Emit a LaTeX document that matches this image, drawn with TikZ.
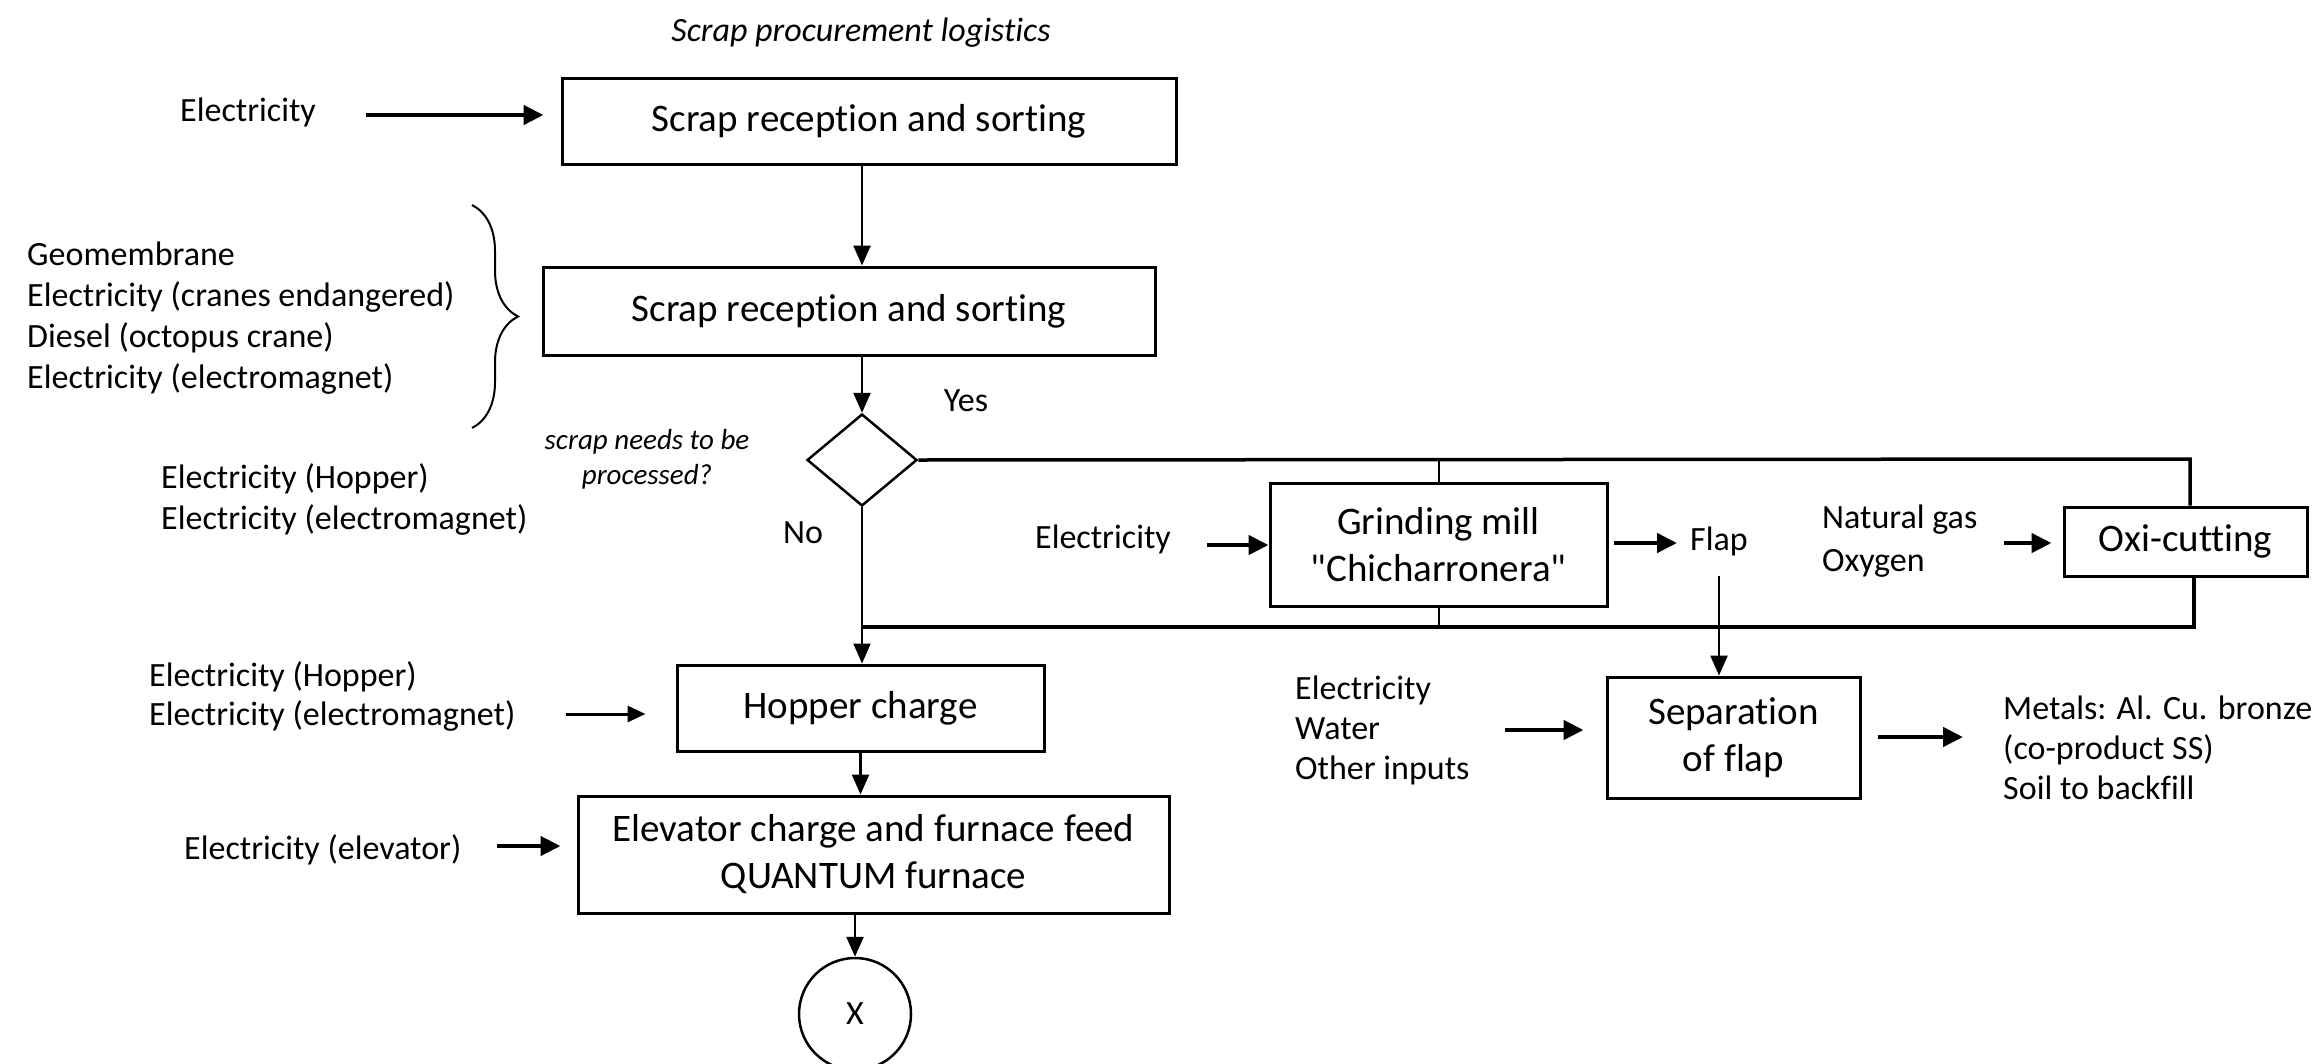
\documentclass[tikz,border=0pt]{standalone}
\usepackage{fontspec}
\setmainfont{Carlito}[Ligatures={TeX,NoCommon}]
\usetikzlibrary{arrows.meta,shapes.geometric,decorations.pathreplacing}
\tikzset{
  box/.style={draw, line width=3pt, inner sep=0pt, align=center, font=\fontsize{39}{47}\selectfont},
  lbl/.style={align=left, inner sep=0pt, font=\fontsize{34}{41}\selectfont},
  ttl/.style={align=center, inner sep=0pt, font=\itshape\fontsize{34}{41}\selectfont},
  qlbl/.style={align=center, inner sep=0pt, font=\itshape\fontsize{29}{35}\selectfont},
  flow/.style={line width=2.5pt, -{Triangle[length=20pt,width=17pt]}},
  inarr/.style={line width=4.5pt, -{Triangle[length=20pt,width=19pt]}},
  thinarr/.style={line width=3pt, -{Triangle[length=18pt,width=16pt]}},
  conn/.style={line width=3.5pt},
  thinconn/.style={line width=2pt},
}
\begin{document}
\begin{tikzpicture}[x=1pt,y=-1pt]
\fill[white] (0,0) rectangle (2315,1063);
\useasboundingbox (0,0) rectangle (2315,1063);

% nodes
\node[ttl] (title) at (861,33) {Scrap procurement logistics};
\node[lbl, anchor=west] (elec1) at (180,112) {Electricity};
\node[box, minimum width=614pt, minimum height=86pt] (box1) at (869,121) {Scrap reception and sorting};
\node[box, minimum width=612pt, minimum height=88pt] (box2) at (849,311) {Scrap reception and sorting};
\node[lbl, anchor=west] (inp2) at (27,318) {Geomembrane\\Electricity (cranes endangered)\\Diesel (octopus crane)\\Electricity (electromagnet)};
\node[draw, diamond, line width=2.5pt, minimum width=110pt, minimum height=92pt, inner sep=0pt] (dia) at (862,460) {};
\node[lbl] (yes) at (966,401) {Yes};
\node[qlbl] (q) at (647,459) {scrap needs to be\\processed?};
\node[lbl, anchor=west] (inp3) at (161,499) {Electricity (Hopper)\\Electricity (electromagnet)};
\node[lbl] (no) at (803,533) {No};
\node[box, minimum width=337pt, minimum height=123pt] (grind) at (1438.5,544.5) {Grinding mill\\\textquotedbl Chicharronera\textquotedbl};
\node[lbl] (elecg) at (1103,539) {Electricity};
\node[lbl, anchor=west] (flap) at (1690,541) {Flap};
\node[lbl, anchor=west, font=\fontsize{34}{43}\selectfont] (ng) at (1822,541) {Natural gas\\Oxygen};
\node[box, minimum width=243pt, minimum height=69pt] (oxi) at (2185.5,541.5) {Oxi-cutting};
\node[box, minimum width=253pt, minimum height=121pt] (sep) at (1733.5,737.5) {Separation\\of flap};
\node[lbl, anchor=west, font=\fontsize{34}{40}\selectfont] (inp4) at (1295,730) {Electricity\\Water\\Other inputs};
\node[lbl, anchor=west, font=\fontsize{34}{40}\selectfont] (metals) at (2003,748) {Metals: Al. Cu. bronze\\(co-product SS)\\Soil to backfill};
\node[box, minimum width=367pt, minimum height=86pt] (hop) at (860.5,708) {Hopper charge};
\node[lbl, anchor=west, font=\fontsize{34}{39}\selectfont] (inp5) at (149,696) {Electricity (Hopper)\\Electricity (electromagnet)};
\node[box, minimum width=591pt, minimum height=117pt] (elev) at (873.5,854.5) {Elevator charge and furnace feed\\QUANTUM furnace};
\node[lbl, anchor=west] (inp6) at (184,850) {Electricity (elevator)};
\node[draw, circle, line width=2.5pt, minimum size=112pt, inner sep=0pt, font=\fontsize{34}{41}\selectfont] (xend) at (855,1014) {X};

% brace
\draw[line width=2pt, decorate, decoration={brace, amplitude=46pt}] (472,205) -- (472,428);

% free-end coordinates
\coordinate (a1) at (366,115);
\coordinate (ag) at (1207,545);
\coordinate (af) at (1614,543);
\coordinate (ao) at (2004,543);
\coordinate (as) at (1505,730);
\coordinate (am) at (1878,737);
\coordinate (ah) at (566,714);
\coordinate (ae) at (497,846);
\coordinate (tr) at (2190,459);
\coordinate (jr) at (2194,627);
\coordinate (jl) at (862,627);

% input arrows
\draw[inarr, shorten >=17pt] (a1) -- (a1 -| box1.west);
\draw[inarr] (ag) -- (ag -| grind.west);
\draw[inarr, shorten >=13pt] (af) -- (af -| flap.west);
\draw[inarr, shorten >=11pt] (ao) -- (ao -| oxi.west);
\draw[inarr, shorten >=22pt] (as) -- (as -| sep.west);
\draw[inarr, shorten >=40pt] (am) -- (am -| metals.west);
\draw[thinarr, shorten >=30pt] (ah) -- (ah -| hop.west);
\draw[inarr, shorten >=16pt] (ae) -- (ae -| elev.west);

% main flow
\draw[flow] (box1.south -| dia) -- (box2.north -| dia);
\draw[flow] (box2.south -| dia) -- (dia.north);
\draw[flow, thinconn] (dia.south) -- (hop.north -| dia);
\draw[flow] (hop.south) -- (hop.south |- elev.north);
\draw[flow] (elev.south -| xend) -- (xend.north);
\draw[flow, shorten <=20pt] (flap.south) -- (flap.south |- sep.north);

% branch loop
\draw[conn] (dia.east) -- (tr) -- (tr |- oxi.north);
\draw[conn] (oxi.south -| jr) -- (jr) -- (jl);
\draw[thinconn] (grind.north) -- (grind.north |- tr);
\draw[thinconn] (grind.south) -- (grind.south |- jl);
\end{tikzpicture}
\end{document}
